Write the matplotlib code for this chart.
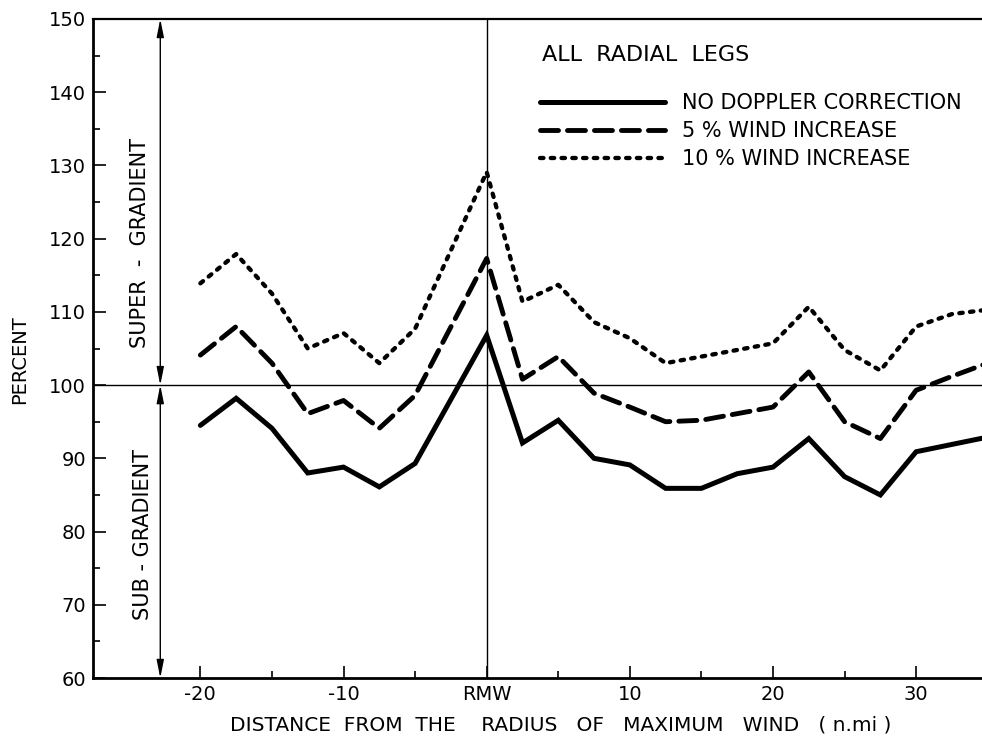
"""
Ratio of observed to gradient wind, all radial legs, with Doppler corrections.
"""

import matplotlib
matplotlib.use("Agg")
import matplotlib.pyplot as plt

# distance from the RMW (n.mi)
dist = [-20, -17.5, -15, -12.5, -10, -7.5, -5, 0, 2.5, 5, 7.5, 10,
        12.5, 15, 17.5, 20, 22.5, 25, 27.5, 30, 32.5, 35]

no_correction = [94.5, 98.2, 94.1, 88.0, 88.8, 86.1, 89.3, 106.8, 92.1, 95.2, 90.0, 89.1,
                 85.9, 85.9, 87.9, 88.8, 92.7, 87.5, 85.0, 90.9, 91.9, 92.9]
wind_5pct = [104.1, 108.0, 103.0, 96.1, 97.9, 94.1, 98.6, 117.3, 100.8, 103.9, 98.9, 97.0,
             95.0, 95.2, 96.1, 97.0, 101.8, 95.0, 92.7, 99.3, 101.2, 103.0]
wind_10pct = [113.9, 117.9, 112.5, 105.0, 107.1, 103.0, 107.7, 129.1, 111.4, 113.7, 108.6, 106.4,
              103.0, 103.9, 104.8, 105.7, 110.7, 104.8, 102.0, 108.0, 109.7, 110.3]

labels = ["NO DOPPLER CORRECTION", "5 % WIND INCREASE", "10 % WIND INCREASE"]

x_major = [-20, -10, 0, 10, 20, 30]
x_major_labels = ["-20", "-10", "RMW", "10", "20", "30"]
x_minor = [-15, -5, 5, 15, 25]
y_major = list(range(60, 151, 10))
y_minor = list(range(65, 150, 10))

W, H = 982, 739
fig = plt.figure(figsize=(W / 100, H / 100), dpi=100)
ax = fig.add_axes([93 / W, 1 - 678 / H, (W - 93) / W, (678 - 19) / H])

ax.plot(dist, no_correction, color="black", lw=3.6, solid_capstyle="round",
        solid_joinstyle="miter", label=labels[0])
ax.plot(dist, wind_5pct, color="black", lw=3.5, dashes=(3.7, 1.85),
        dash_capstyle="round", label=labels[1])
ax.plot(dist, wind_10pct, color="black", lw=3.1, dashes=(0.8, 1.7),
        dash_capstyle="round", label=labels[2])

# reference lines
ax.axhline(100, color="black", lw=1.0, zorder=1)
ax.axvline(0, color="black", lw=1.0, zorder=1)

# super / sub gradient arrows
arrow_x = -22.8
for y0, y1 in [(100, 150), (100, 60)]:
    ax.annotate("", xy=(arrow_x, y1), xytext=(arrow_x, y0),
                arrowprops=dict(arrowstyle="<|-|>,head_length=0.9,head_width=0.18",
                                lw=1.0, color="black", shrinkA=0, shrinkB=0,
                                mutation_scale=12))
ax.text(-24.2, 119.4, "SUPER  -  GRADIENT", rotation=90, ha="center", va="center", fontsize=15)
ax.text(-24.0, 79.6, "SUB - GRADIENT", rotation=90, ha="center", va="center", fontsize=15)

ax.set_xlim(-27.5, 34.6)
ax.set_ylim(60, 150)

ax.set_xticks(x_major)
ax.set_xticklabels(x_major_labels)
ax.set_xticks(x_minor, minor=True)
ax.set_yticks(y_major)
ax.set_yticks(y_minor, minor=True)
ax.tick_params(which="both", direction="in", width=1.2, labelsize=14, colors="black")
ax.tick_params(which="major", length=9)
ax.tick_params(which="minor", length=5)
ax.tick_params(axis="x", pad=5)
ax.tick_params(axis="y", pad=5)

ax.spines["right"].set_visible(False)
ax.spines["left"].set_linewidth(2.0)
ax.spines["bottom"].set_linewidth(2.0)
ax.spines["top"].set_linewidth(1.6)

fig.text(561 / W, 1 - 725 / H, "DISTANCE  FROM  THE    RADIUS   OF   MAXIMUM   WIND   ( n.mi )",
         ha="center", va="center", fontsize=14.5)
fig.text(20 / W, 1 - 360 / H, "PERCENT", rotation=90, ha="center", va="center", fontsize=14)

fig.text(542 / W, 1 - 55 / H, "ALL  RADIAL  LEGS", ha="left", va="center", fontsize=16)
ax.legend(loc="upper left", bbox_to_anchor=(540 / W, 1 - 93 / H), bbox_transform=fig.transFigure,
          frameon=False, fontsize=15, handlelength=6.0, handletextpad=0.8,
          borderpad=0, borderaxespad=0, labelspacing=0.38)

fig.savefig("out.png", dpi=100)
